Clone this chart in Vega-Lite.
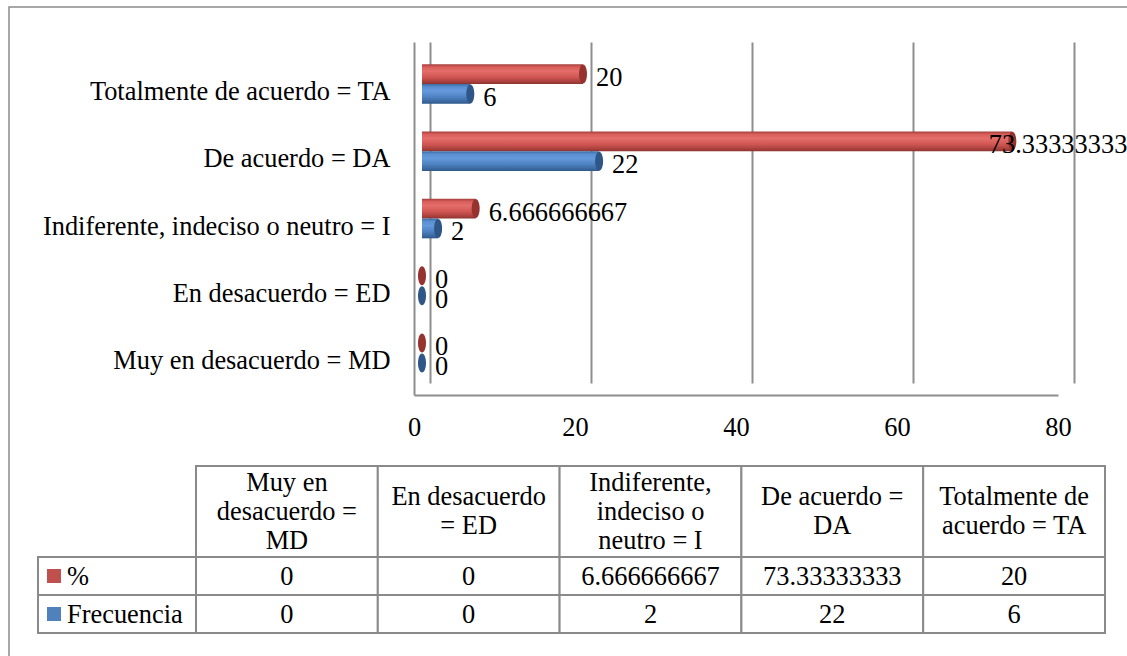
{
  "$schema": "https://vega.github.io/schema/vega-lite/v6.json",
  "width": 1130,
  "height": 660,
  "padding": {"left": 9, "top": 7, "right": 0, "bottom": 0},
  "autosize": {"type": "none"},
  "background": "white",
  "config": {
    "font": "Liberation Serif",
    "view": {"stroke": "#8A8A8A", "strokeWidth": 1.5},
    "text": {"font": "Liberation Serif", "fontSize": 26.4, "color": "black"}
  },
  "datasets": {
    "valores": [
      {"categoria": "Muy en desacuerdo = MD", "serie": "%", "valor": 0},
      {"categoria": "En desacuerdo = ED", "serie": "%", "valor": 0},
      {"categoria": "Indiferente, indeciso o neutro = I", "serie": "%", "valor": 6.666666667},
      {"categoria": "De acuerdo = DA", "serie": "%", "valor": 73.33333333},
      {"categoria": "Totalmente de acuerdo = TA", "serie": "%", "valor": 20},
      {"categoria": "Muy en desacuerdo = MD", "serie": "Frecuencia", "valor": 0},
      {"categoria": "En desacuerdo = ED", "serie": "Frecuencia", "valor": 0},
      {"categoria": "Indiferente, indeciso o neutro = I", "serie": "Frecuencia", "valor": 2},
      {"categoria": "De acuerdo = DA", "serie": "Frecuencia", "valor": 22},
      {"categoria": "Totalmente de acuerdo = TA", "serie": "Frecuencia", "valor": 6}
    ],
    "encabezados": [
      {"categoria": "Muy en desacuerdo = MD", "texto": "Muy en\ndesacuerdo =\nMD"},
      {"categoria": "En desacuerdo = ED", "texto": "En desacuerdo\n= ED"},
      {"categoria": "Indiferente, indeciso o neutro = I", "texto": "Indiferente,\nindeciso o\nneutro = I"},
      {"categoria": "De acuerdo = DA", "texto": "De acuerdo =\nDA"},
      {"categoria": "Totalmente de acuerdo = TA", "texto": "Totalmente de\nacuerdo = TA"}
    ]
  },
  "layer": [
    {
      "data": {"name": "valores"},
      "encoding": {
        "y": {
          "field": "categoria", "type": "nominal",
          "scale": {
            "domain": ["Totalmente de acuerdo = TA", "De acuerdo = DA", "Indiferente, indeciso o neutro = I", "En desacuerdo = ED", "Muy en desacuerdo = MD"],
            "range": [35, 388], "paddingInner": 0.41, "paddingOuter": 0.33
          },
          "axis": {
            "title": null, "orient": "left", "offset": -405,
            "labelFont": "Liberation Serif", "labelFontSize": 26.4, "labelColor": "black",
            "labelPadding": 24, "labelOffset": 8, "labelLimit": 600,
            "ticks": false, "tickSize": 0, "grid": false,
            "domain": true, "domainColor": "#8E8E8E", "domainWidth": 2
          }
        },
        "yOffset": {
          "field": "serie", "type": "nominal",
          "scale": {"domain": ["%", "Frecuencia"], "paddingInner": 0, "paddingOuter": 0}
        },
        "x": {
          "field": "valor", "type": "quantitative",
          "scale": {"domain": [0, 80], "range": [405, 1049], "nice": false, "zero": true},
          "axis": null
        }
      },
      "layer": [
        {
          "transform": [{"filter": "datum.serie === '%'"}],
          "mark": {
            "type": "bar", "xOffset": 8, "x2Offset": 8,
            "fill": {
              "gradient": "linear", "x1": 0, "y1": 0, "x2": 0, "y2": 1,
              "stops": [
                {"offset": 0, "color": "#A23E3B"},
                {"offset": 0.15, "color": "#D95F5B"},
                {"offset": 0.35, "color": "#E46E6A"},
                {"offset": 0.65, "color": "#D05653"},
                {"offset": 0.9, "color": "#A63E3B"},
                {"offset": 1, "color": "#8C3330"}
              ]
            }
          },
          "encoding": {
            "x": {
              "field": "valor", "type": "quantitative",
              "axis": {
                "title": null, "orient": "bottom", "offset": -272,
                "values": [0, 20, 40, 60, 80],
                "labelFont": "Liberation Serif", "labelFontSize": 26.4, "labelColor": "black",
                "labelBaseline": "middle", "labelPadding": 32, "labelFlush": false,
                "ticks": false, "tickSize": 0, "grid": false,
                "domain": true, "domainColor": "#8E8E8E", "domainWidth": 2
              }
            }
          }
        },
        {
          "transform": [{"filter": "datum.serie === 'Frecuencia'"}],
          "mark": {
            "type": "bar", "xOffset": 8, "x2Offset": 8,
            "fill": {
              "gradient": "linear", "x1": 0, "y1": 0, "x2": 0, "y2": 1,
              "stops": [
                {"offset": 0, "color": "#3F6CA5"},
                {"offset": 0.15, "color": "#5A8FD0"},
                {"offset": 0.35, "color": "#649ADB"},
                {"offset": 0.65, "color": "#4F82C2"},
                {"offset": 0.9, "color": "#3A669D"},
                {"offset": 1, "color": "#2F5788"}
              ]
            }
          },
          "encoding": {
            "x": {
              "field": "valor", "type": "quantitative",
              "axis": {
                "title": null, "orient": "top", "offset": -35,
                "values": [0, 20, 40, 60, 80],
                "labels": false, "domain": false, "grid": false,
                "ticks": true, "tickSize": -341, "tickOffset": 16,
                "tickColor": "#8E8E8E", "tickWidth": 2
              }
            }
          }
        },
        {
          "mark": {
            "type": "point", "filled": true, "opacity": 1, "size": 361, "xOffset": 8,
            "shape": "M0,-1C0.232,-1,0.42,-0.552,0.42,0C0.42,0.552,0.232,1,0,1C-0.232,1,-0.42,0.552,-0.42,0C-0.42,-0.552,-0.232,-1,0,-1Z"
          },
          "encoding": {
            "color": {
              "field": "serie", "type": "nominal",
              "scale": {"domain": ["%", "Frecuencia"], "range": ["#97332F", "#2E5687"]},
              "legend": null
            }
          }
        },
        {
          "transform": [{"filter": "datum.valor < 50"}],
          "mark": {"type": "text", "align": "left", "baseline": "middle", "dx": 21, "dy": 4, "fontSize": 26.4, "color": "black"},
          "encoding": {"text": {"field": "valor", "type": "quantitative", "format": ".10~g"}}
        },
        {
          "transform": [{"filter": "datum.valor >= 50"}],
          "mark": {"type": "text", "align": "right", "baseline": "middle", "dx": 123, "dy": 4, "fontSize": 26.4, "color": "black"},
          "encoding": {"text": {"field": "valor", "type": "quantitative", "format": ".10~g"}}
        }
      ],
      "resolve": {"axis": {"x": "independent"}}
    },
    {
      "layer": [
        {
          "data": {"name": "encabezados"},
          "encoding": {
            "x": {
              "field": "categoria", "type": "nominal",
              "scale": {
                "domain": ["Muy en desacuerdo = MD", "En desacuerdo = ED", "Indiferente, indeciso o neutro = I", "De acuerdo = DA", "Totalmente de acuerdo = TA"],
                "range": [187, 1096], "paddingInner": 0, "paddingOuter": 0
              },
              "axis": null
            },
            "y": {
              "datum": "encabezado", "type": "nominal",
              "scale": {"domain": ["encabezado"], "range": [459, 550], "paddingInner": 0, "paddingOuter": 0},
              "axis": null
            }
          },
          "layer": [
            {"mark": {"type": "rect", "fill": "white", "stroke": "#8A8A8A", "strokeWidth": 2}},
            {
              "transform": [{"filter": "split(datum.texto, '\\n').length === 3"}],
              "mark": {"type": "text", "align": "center", "baseline": "middle", "lineBreak": "\n", "lineHeight": 29, "dy": -29, "fontSize": 26.4, "color": "black"},
              "encoding": {"text": {"field": "texto", "type": "nominal"}}
            },
            {
              "transform": [{"filter": "split(datum.texto, '\\n').length === 2"}],
              "mark": {"type": "text", "align": "center", "baseline": "middle", "lineBreak": "\n", "lineHeight": 29, "dy": -14.5, "fontSize": 26.4, "color": "black"},
              "encoding": {"text": {"field": "texto", "type": "nominal"}}
            }
          ]
        },
        {
          "data": {"name": "valores"},
          "encoding": {
            "x": {
              "field": "categoria", "type": "nominal",
              "scale": {
                "domain": ["Muy en desacuerdo = MD", "En desacuerdo = ED", "Indiferente, indeciso o neutro = I", "De acuerdo = DA", "Totalmente de acuerdo = TA"],
                "range": [187, 1096], "paddingInner": 0, "paddingOuter": 0
              },
              "axis": null
            },
            "y": {
              "field": "serie", "type": "nominal",
              "scale": {"domain": ["%", "Frecuencia"], "range": [550, 626], "paddingInner": 0, "paddingOuter": 0},
              "axis": null
            }
          },
          "layer": [
            {"mark": {"type": "rect", "fill": "white", "stroke": "#8A8A8A", "strokeWidth": 2}},
            {
              "mark": {"type": "text", "align": "center", "baseline": "middle", "dy": 1, "fontSize": 26.4, "color": "black"},
              "encoding": {"text": {"field": "valor", "type": "quantitative", "format": ".10~g"}}
            }
          ]
        },
        {
          "data": {"name": "valores"},
          "transform": [{"filter": "datum.categoria === 'Muy en desacuerdo = MD'"}],
          "encoding": {
            "x": {
              "datum": "leyenda", "type": "nominal",
              "scale": {"domain": ["leyenda"], "range": [29, 187], "paddingInner": 0, "paddingOuter": 0},
              "axis": null
            },
            "y": {
              "field": "serie", "type": "nominal",
              "scale": {"domain": ["%", "Frecuencia"], "range": [550, 626], "paddingInner": 0, "paddingOuter": 0},
              "axis": null
            }
          },
          "layer": [
            {"mark": {"type": "rect", "fill": "white", "stroke": "#8A8A8A", "strokeWidth": 2}},
            {
              "mark": {"type": "point", "shape": "square", "filled": true, "opacity": 1, "size": 196, "xOffset": -63},
              "encoding": {
                "color": {
                  "field": "serie", "type": "nominal",
                  "scale": {"domain": ["%", "Frecuencia"], "range": ["#C0504D", "#4F81BD"]},
                  "legend": null
                }
              }
            },
            {
              "mark": {"type": "text", "align": "left", "baseline": "middle", "dx": -50, "dy": 1, "fontSize": 26.4, "color": "black"},
              "encoding": {"text": {"field": "serie", "type": "nominal"}}
            }
          ]
        }
      ],
      "resolve": {"scale": {"x": "independent", "y": "independent", "color": "independent"}}
    }
  ],
  "resolve": {
    "scale": {"x": "independent", "y": "independent", "color": "independent"},
    "axis": {"x": "independent", "y": "independent"}
  }
}
